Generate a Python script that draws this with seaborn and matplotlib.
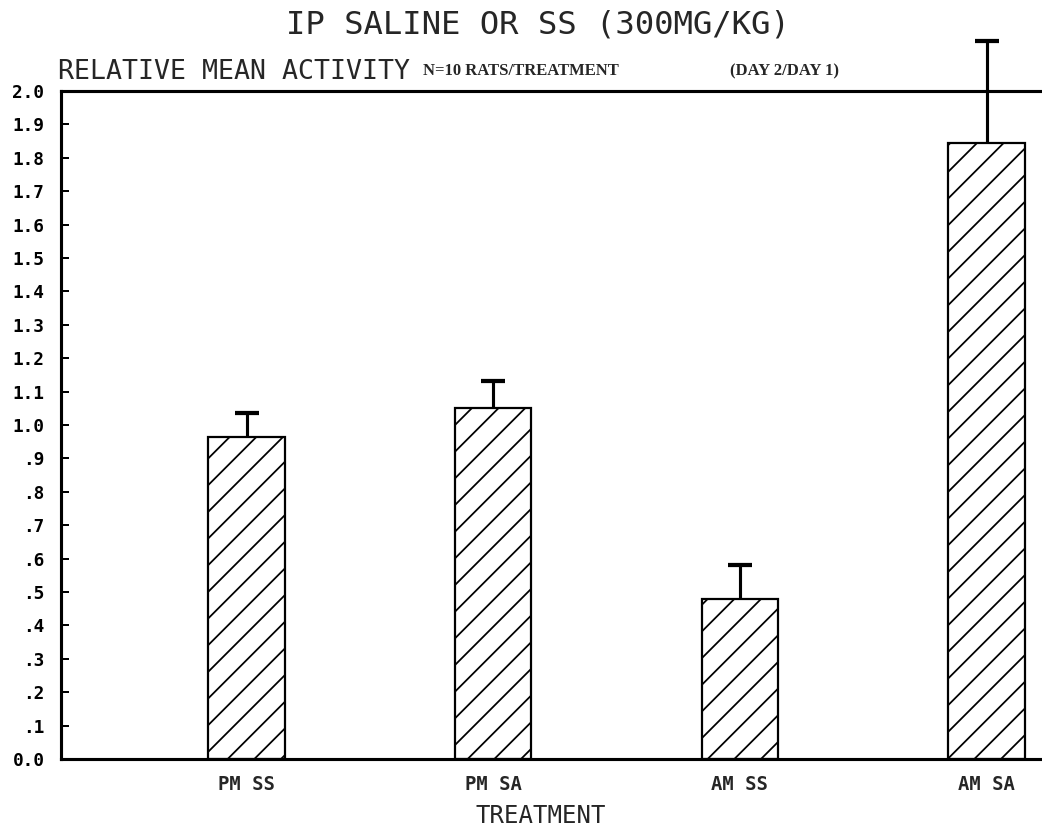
import matplotlib
matplotlib.use("Agg")
import matplotlib.pyplot as plt
import seaborn as sns
import pandas as pd
import numpy as np

# ---- data ----
treatments = ["PM SS", "PM SA", "AM SS", "AM SA"]
mean_activity = [0.965, 1.050, 0.478, 1.843]
sem_activity = [0.072, 0.082, 0.103, 0.307]
ytick_values = [0.0, 0.1, 0.2, 0.3, 0.4, 0.5, 0.6, 0.7, 0.8, 0.9, 1.0,
                1.1, 1.2, 1.3, 1.4, 1.5, 1.6, 1.7, 1.8, 1.9, 2.0]
ytick_labels = ["0.0", ".1", ".2", ".3", ".4", ".5", ".6", ".7", ".8", ".9",
                "1.0", "1.1", "1.2", "1.3", "1.4", "1.5", "1.6", "1.7", "1.8",
                "1.9", "2.0"]
title_text = "IP SALINE OR SS (300MG/KG)"
ylabel_text = "RELATIVE MEAN ACTIVITY"
note_n = "N=10 RATS/TREATMENT"
note_ratio = "(DAY 2/DAY 1)"
xlabel_text = "TREATMENT"

df = pd.DataFrame({"treatment": treatments, "activity": mean_activity})

sns.set_style("white")
plt.rcParams["font.family"] = ["DejaVu Sans Mono", "DejaVu Sans"]
plt.rcParams["hatch.color"] = "black"
plt.rcParams["hatch.linewidth"] = 0.8

W, H, DPI = 1042, 827, 160
fig = plt.figure(figsize=(W / DPI, H / DPI), dpi=DPI)
fig.patch.set_facecolor("white")

ax_left, ax_right, ax_top, ax_bottom = 61, 1042, 91, 759
ax = fig.add_axes([ax_left / W, (H - ax_bottom) / H,
                   (ax_right - ax_left) / W, (ax_bottom - ax_top) / H])
ax.set_facecolor("white")

sns.barplot(data=df, x="treatment", y="activity", order=treatments,
            color="white", saturation=1, edgecolor="black", linewidth=1.0,
            hatch="//", width=0.31, errorbar=None, ax=ax)

xpos = np.arange(len(treatments))
eb = ax.errorbar(xpos, mean_activity,
                 yerr=[np.zeros(len(sem_activity)), sem_activity],
                 fmt="none", ecolor="black", elinewidth=1.4,
                 capsize=5.4, capthick=1.9, zorder=5)
means_arr = np.asarray(mean_activity)
for cap in eb.lines[1]:
    yd = np.asarray(cap.get_ydata(), dtype=float)
    if np.allclose(yd, means_arr):
        cap.set_visible(False)
    cap.set_clip_on(False)
for col in eb.lines[2]:
    col.set_clip_on(False)

ax.set_xlim(-0.752, 3.2245)
ax.set_ylim(0, 2.0)

for side in ["left", "top", "bottom"]:
    ax.spines[side].set_visible(True)
    ax.spines[side].set_linewidth(1.4)
    ax.spines[side].set_color("black")
ax.spines["right"].set_visible(False)

ax.set_yticks(ytick_values)
ax.set_yticklabels(ytick_labels, fontsize=8, fontweight="bold",
                   family=["DejaVu Sans Mono"])
ax.tick_params(axis="y", direction="in", length=3.6, width=0.9,
               pad=7.5, left=True, right=False, colors="black")
ax.tick_params(axis="x", length=0, pad=7)
for lab in ax.get_xticklabels():
    lab.set_fontsize(8.5)
    lab.set_fontweight("bold")
    lab.set_family(["DejaVu Sans Mono"])
ax.set_xlabel("")
ax.set_ylabel("")

# ---- texts ----
fig.text(538 / W, 1 - 34 / H, title_text, ha="center", va="baseline",
         fontsize=14.5, family=["DejaVu Sans Mono"])
fig.text(58 / W, 1 - 79 / H, ylabel_text, ha="left", va="baseline",
         fontsize=12, family=["DejaVu Sans Mono"])
fig.text(423 / W, 1 - 75 / H, note_n, ha="left", va="baseline",
         fontsize=7.5, fontweight="bold", family=["Liberation Serif"])
fig.text(730 / W, 1 - 75 / H, note_ratio, ha="left", va="baseline",
         fontsize=7.5, fontweight="bold", family=["Liberation Serif"])
fig.text(541 / W, 1 - 823 / H, xlabel_text, ha="center", va="baseline",
         fontsize=10.8, family=["DejaVu Sans Mono"])

fig.savefig("out.png", dpi=DPI, facecolor="white")
